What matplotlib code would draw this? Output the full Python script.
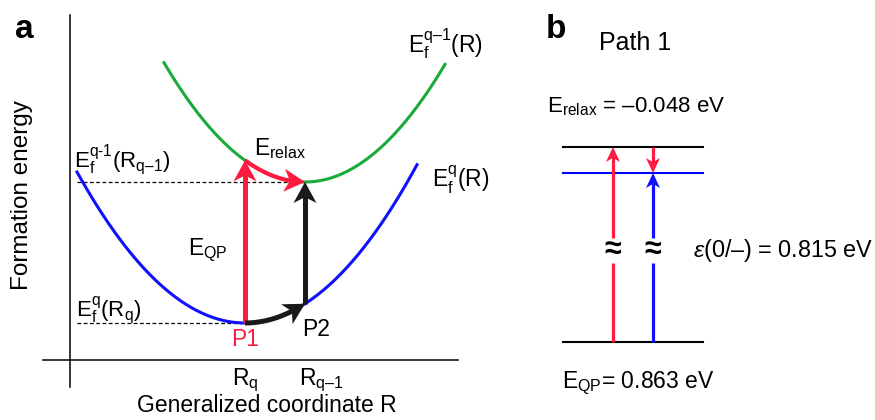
import numpy as np
import matplotlib.pyplot as plt
from matplotlib.patches import Polygon

plt.rcParams['font.family'] = ['Liberation Sans', 'DejaVu Sans']
plt.rcParams['mathtext.fontset'] = 'custom'
plt.rcParams['mathtext.rm'] = 'Liberation Sans'
plt.rcParams['mathtext.it'] = 'Liberation Sans:italic'
plt.rcParams['mathtext.bf'] = 'Liberation Sans:bold'

# panel a: configuration coordinate diagram, E(R) = E0 + k (R - R0)^2
R_Q, R_Q1 = 245, 305            # equilibrium coordinates R_q, R_q-1
E0_Q, E0_Q1 = 97, 238           # minima of the two curves
K_Q, K_Q1 = 0.00535, 0.006      # curvatures
SPAN_Q = (77, 417)              # drawn range of E_f^q(R)
SPAN_Q1 = (164, 445)            # drawn range of E_f^(q-1)(R)

# panel b: energy levels (schematic, axis broken)
LEVELS = [273, 247, 78]
LEVEL_COLORS = ['black', 'blue', 'black']
LEVEL_X = (563, 703)
PATH_X = [613, 653]
BREAK = (157, 182)

RED = '#ff1a40'
BLUE = '#1010ff'
GREEN = '#1aaa3c'


def e_q(r):
    return E0_Q + K_Q * (np.asarray(r) - R_Q) ** 2


def e_q1(r):
    return E0_Q1 + K_Q1 * (np.asarray(r) - R_Q1) ** 2


def head(ax, tip, d, color, L, W):
    d = np.asarray(d, float)
    d = d / np.hypot(*d)
    n = np.array([-d[1], d[0]])
    tip = np.asarray(tip, float)
    back = tip - d * L
    pts = [tip, back + n * W / 2, tip - d * L * 0.72, back - n * W / 2]
    ax.add_patch(Polygon(pts, closed=True, fc=color, ec='none', zorder=6))


def arrow(ax, xs, ys, color, lw, L, W):
    xs = np.asarray(xs, float)
    ys = np.asarray(ys, float)
    tip = np.array([xs[-1], ys[-1]])
    dist = np.hypot(xs - tip[0], ys - tip[1])
    keep = dist >= 0.65 * L
    ax.plot(xs[keep], ys[keep], color=color, lw=lw, solid_capstyle='butt', zorder=5)
    i = np.where(keep)[0][-1]
    head(ax, tip, tip - [xs[i], ys[i]], color, L, W)


def line_pts(x0, y0, x1, y1, n=200):
    return np.linspace(x0, x1, n), np.linspace(y0, y1, n)


fig = plt.figure(figsize=(8.75, 4.2), dpi=100)
ax = fig.add_axes([0, 0, 1, 1])
ax.set_xlim(0, 875)
ax.set_ylim(0, 420)
ax.axis('off')

# ---- panel a ----
ax.plot([70, 70], [33, 405], color='black', lw=1.1)
ax.plot([43, 458], [60, 60], color='black', lw=1.1)

r = np.linspace(*SPAN_Q, 300)
ax.plot(r, e_q(r), color=BLUE, lw=2.2, zorder=3)
r = np.linspace(*SPAN_Q1, 300)
ax.plot(r, e_q1(r), color=GREEN, lw=2.2, zorder=3)

ax.plot([SPAN_Q[0], R_Q1], [E0_Q1, E0_Q1], color='black', lw=0.9, ls=(0, (3, 2)), zorder=2)
ax.plot([SPAN_Q[0], R_Q], [E0_Q, E0_Q], color='black', lw=0.9, ls=(0, (3, 2)), zorder=2)

# vertical transitions
arrow(ax, *line_pts(R_Q, e_q(R_Q), R_Q, e_q1(R_Q)), RED, 3.6, 21, 23)
arrow(ax, *line_pts(R_Q1, e_q(R_Q1), R_Q1, e_q1(R_Q1)), '#1a1a1a', 3.6, 21, 23)
# relaxations along the curves
r = np.linspace(R_Q, R_Q1, 200)
arrow(ax, r, e_q1(r), RED, 3.0, 21, 23)
arrow(ax, r, e_q(r), '#1a1a1a', 3.6, 21, 23)

ax.text(24, 391, 'a', fontsize=24, fontweight='bold', ha='center', va='center')
ax.text(22, 225, 'Formation energy', fontsize=17.5, rotation=90, ha='center', va='center')
ax.text(267, 3, 'Generalized coordinate R', fontsize=16.5, ha='center', va='bottom')
ax.text(R_Q, 40, r'$\mathrm{R_q}$', fontsize=16.5, ha='center', va='center')
ax.text(R_Q1 + 16, 40, r'$\mathrm{R_{q\text{–}1}}$', fontsize=16.5, ha='center', va='center')
ax.text(R_Q, 80, 'P1', fontsize=16.5, color=RED, ha='center', va='center')
ax.text(316, 90, 'P2', fontsize=16.5, ha='center', va='center')
ax.text(208, 170, r'$\mathrm{E_{QP}}$', fontsize=16.5, ha='center', va='center')
ax.text(280, 271, r'$\mathrm{E_{relax}}$', fontsize=16.5, ha='center', va='center')
ax.text(74, 252, r'$\mathrm{E_f^{q\text{-}1}(R_{q\text{–}1})}$', fontsize=16, ha='left', va='baseline')
ax.text(76, 103, r'$\mathrm{E_f^{q}(R_q)}$', fontsize=16, ha='left', va='baseline')
ax.text(432, 232, r'$\mathrm{E_f^{q}(R)}$', fontsize=16.5, ha='left', va='baseline')
ax.text(408, 367, r'$\mathrm{E_f^{q\text{–}1}(R)}$', fontsize=16.5, ha='left', va='baseline')

# ---- panel b ----
for lev, c in zip(LEVELS, LEVEL_COLORS):
    ax.plot(LEVEL_X, [lev, lev], color=c, lw=1.5)

x_red, x_blue = PATH_X
ax.plot([x_red, x_red], [LEVELS[2], BREAK[0]], color=RED, lw=2.3, solid_capstyle='butt')
arrow(ax, *line_pts(x_red, BREAK[1], x_red, LEVELS[0]), RED, 2.3, 15, 14)
ax.plot([x_blue, x_blue], [LEVELS[2], BREAK[0]], color=BLUE, lw=2.3, solid_capstyle='butt')
arrow(ax, *line_pts(x_blue, BREAK[1], x_blue, LEVELS[1]), BLUE, 2.3, 15, 14)
arrow(ax, *line_pts(x_blue, LEVELS[0], x_blue, LEVELS[1]), RED, 2.3, 15, 14)
for x in PATH_X:
    ax.text(x, sum(BREAK) / 2, '≈', fontsize=22, fontweight='bold', ha='center', va='center')

ax.text(556, 391, 'b', fontsize=24, fontweight='bold', ha='center', va='center')
ax.text(599, 377, 'Path 1', fontsize=18, ha='left', va='center')
ax.text(547, 313, r'$\mathrm{E_{relax}}$ = –0.048 eV', fontsize=16, ha='left', va='center')
ax.text(693, 170, r'$\varepsilon$(0/–) = 0.815 eV', fontsize=16.8, ha='left', va='center')
ax.text(562, 37, r'$\mathrm{E_{QP}}$= 0.863 eV', fontsize=16.5, ha='left', va='center')

fig.savefig('out.png', dpi=100)
